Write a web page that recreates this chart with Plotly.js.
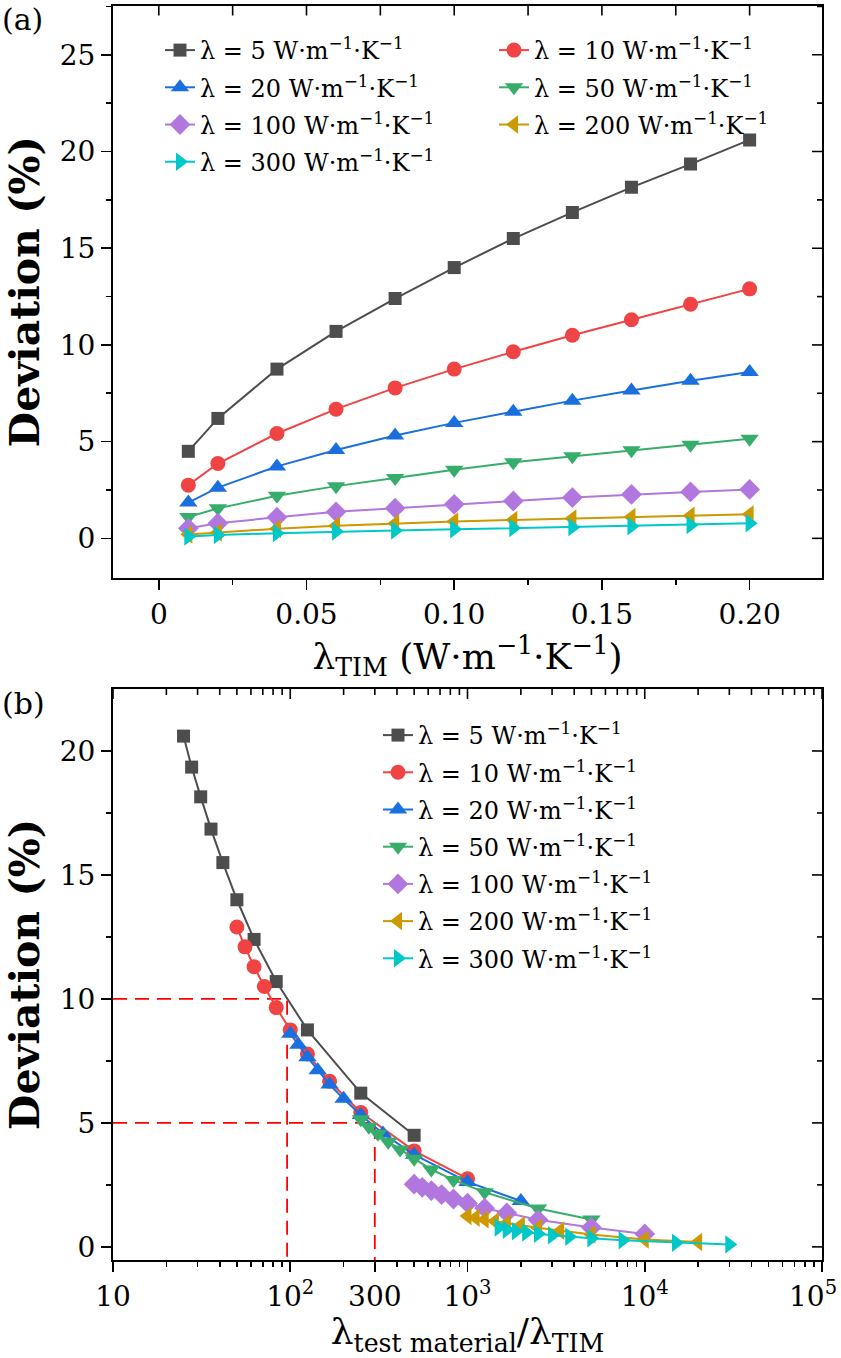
<!DOCTYPE html>
<html>
<head>
<meta charset="utf-8">
<script src="https://cdn.plot.ly/plotly-3.0.1.min.js"></script>
<style>html,body{margin:0;padding:0;background:#fff;}#chart{width:841px;height:1358px;}</style>
</head>
<body>
<div id="chart"></div>
<script>
// thermal conductivity of TIM (W·m^-1·K^-1)
const lamTIM = [0.01, 0.02, 0.04, 0.06, 0.08, 0.10, 0.12, 0.14, 0.16, 0.18, 0.20];
// thermal conductivity of test material
const lamMat = [5, 10, 20, 50, 100, 200, 300];
// deviation (%) for each test material
const dev5   = [4.5, 6.2, 8.75, 10.7, 12.4, 14.0, 15.5, 16.85, 18.15, 19.35, 20.6];
const dev10  = [2.75, 3.87, 5.42, 6.68, 7.78, 8.75, 9.65, 10.5, 11.3, 12.1, 12.9];
const dev20  = [1.85, 2.62, 3.72, 4.57, 5.32, 5.97, 6.55, 7.12, 7.65, 8.15, 8.6];
const dev50  = [1.1, 1.55, 2.2, 2.7, 3.12, 3.55, 3.93, 4.24, 4.56, 4.84, 5.15];
const dev100 = [0.52, 0.78, 1.09, 1.37, 1.56, 1.76, 1.93, 2.11, 2.27, 2.4, 2.53];
const dev200 = [0.2, 0.3, 0.5, 0.65, 0.77, 0.87, 0.95, 1.03, 1.1, 1.17, 1.24];
const dev300 = [0.1, 0.17, 0.27, 0.35, 0.41, 0.47, 0.53, 0.58, 0.63, 0.69, 0.78];
const devs = [dev5, dev10, dev20, dev50, dev100, dev200, dev300];
// legend column of each series in panel (a)
const legendColA = ['legend', 'legend3', 'legend', 'legend3', 'legend', 'legend3', 'legend'];
// reference guide lines in panel (b)
const guide10x = [10, 96, 96];
const guide10y = [10, 10, -0.53];
const guide5x = [10, 300, 300];
const guide5y = [5, 5, -0.53];
// tick positions / labels
const linTickVals = [0, 0.05, 0.10, 0.15, 0.20];
const linTickText = ['0', '0.05', '0.10', '0.15', '0.20'];
const linMinor = [0.025, 0.075, 0.125, 0.175, 0.225];
const yTickA = [0, 5, 10, 15, 20, 25];
const yMinorA = [2.5, 7.5, 12.5, 17.5, 22.5, 27.5];
const yTickB = [0, 5, 10, 15, 20];
const yMinorB = [2.5, 7.5, 12.5, 17.5];
const logTickVals = [10, 100, 300, 1000, 10000, 100000];
const logTickText = ['10', '10<sup>2</sup>', '300', '10<sup>3</sup>', '10<sup>4</sup>', '10<sup>5</sup>\u00a0\u00a0'];
const logDecades = [10, 100, 1000, 10000, 100000];

const colors = ['#4d4d4d', '#f04343', '#1a6fdf', '#37ad6b', '#b177de', '#cc9900', '#00c8c8'];
const symbols = ['square', 'circle', 'triangle-up', 'triangle-down', 'diamond', 'triangle-left', 'triangle-right'];
const msizes = [13, 15, 16, 16, 16, 16, 16];

const FONT = 'DejaVu Serif, Liberation Serif, serif';
const name = l => 'λ = ' + l + ' W·m<sup>−1</sup>·K<sup>−1</sup>';

const traces = [];
lamMat.forEach((l, i) => {
  traces.push({
    x: lamTIM, y: devs[i], xaxis: 'x', yaxis: 'y', legend: legendColA[i], legendgroup: 'a' + l,
    type: 'scatter', mode: 'lines+markers', name: name(l),
    line: {color: colors[i], width: 2},
    marker: {symbol: symbols[i], size: msizes[i], color: colors[i]}
  });
});
[[guide10x, guide10y], [guide5x, guide5y]].forEach(g => {
  traces.push({
    x: g[0], y: g[1], xaxis: 'x2', yaxis: 'y2', type: 'scatter', mode: 'lines',
    showlegend: false, line: {color: '#ff0000', width: 1.8, dash: '14px,8px'}
  });
});
lamMat.forEach((l, i) => {
  traces.push({
    x: lamTIM.map(t => l / t), y: devs[i], xaxis: 'x2', yaxis: 'y2', legend: 'legend2', legendgroup: 'b' + l,
    type: 'scatter', mode: 'lines+markers', name: name(l),
    line: {color: colors[i], width: 2},
    marker: {symbol: symbols[i], size: msizes[i], color: colors[i]}
  });
});

const minorLog = [];
for (let d = 1; d < 5; d++) for (let k = 2; k <= 9; k++) minorLog.push(k * Math.pow(10, d));

const W = 841, H = 1358;
const MAJ = 10, MIN = 5;
const dom = [113 / W, 822 / W];
const domA = [(H - 578) / H, (H - 5.5) / H];
const domB = [(H - 1260) / H, (H - 689) / H];
const rangeXA = [-0.0155, 0.2245], rangeYA = [-2.05, 27.55];
const rangeXB = [0.99999, 5.00001], rangeYB = [-0.53, 22.5];
const tickFont = {family: FONT, size: 28, color: '#000'};
const titleFont = {family: FONT, size: 36, color: '#000'};
const yTitleFont = {family: FONT, size: 41, color: '#000'};
const base = {showline: true, linewidth: 2, linecolor: '#000', showgrid: false, zeroline: false,
  ticks: 'outside', ticklen: MAJ, tickwidth: 1.6, tickcolor: '#000', tickfont: tickFont, mirror: true,
  ticklabeloverflow: 'allow'};
const minorOut = {ticks: 'outside', ticklen: MIN, tickwidth: 1.6, tickcolor: '#000'};
const legFont = {family: FONT, size: 24, color: '#000'};

// inward ticks on the top and right frame edges (mirrors of the axis ticks)
const shapes = [];
function topTicks(xr, yTop, vals, len) {
  vals.forEach(v => shapes.push({type: 'line', xref: xr, yref: 'paper', x0: v, x1: v, y0: yTop, y1: yTop - len / H,
    line: {color: '#000', width: 1.6}, layer: 'above'}));
}
function rightTicks(yr, vals, len) {
  vals.forEach(v => shapes.push({type: 'line', xref: 'paper', yref: yr, x0: dom[1], x1: dom[1] - len / W, y0: v, y1: v,
    line: {color: '#000', width: 1.6}, layer: 'above'}));
}
topTicks('x', domA[1], linTickVals, MAJ);
topTicks('x', domA[1], linMinor, MAJ);
rightTicks('y', yTickA, MAJ);
rightTicks('y', yMinorA, MIN);
topTicks('x2', domB[1], logDecades, MAJ);
topTicks('x2', domB[1], minorLog, MIN + 1);
rightTicks('y2', yTickB, MAJ);
rightTicks('y2', yMinorB, MIN);

const layout = {
  width: W, height: H, margin: {l: 0, r: 0, t: 0, b: 0},
  paper_bgcolor: '#fff', plot_bgcolor: '#fff', showlegend: true,
  font: {family: FONT, color: '#000'},
  shapes: shapes,
  xaxis: Object.assign({}, base, {domain: dom, anchor: 'y', range: rangeXA,
    tickmode: 'array', tickvals: linTickVals, ticktext: linTickText,
    minor: Object.assign({tickmode: 'array', tickvals: linMinor}, minorOut),
    title: {text: 'λ<sub>TIM</sub> (W·m<sup>−1</sup>·K<sup>−1</sup>)', font: titleFont, standoff: 12}}),
  yaxis: Object.assign({}, base, {domain: domA, anchor: 'x', range: rangeYA,
    tickmode: 'array', tickvals: yTickA,
    minor: Object.assign({tickmode: 'array', tickvals: yMinorA}, minorOut),
    title: {text: '<b>Deviation (%)</b>', font: yTitleFont, standoff: 7}}),
  xaxis2: Object.assign({}, base, {domain: dom, anchor: 'y2', type: 'log', range: rangeXB,
    tickmode: 'array', tickvals: logTickVals, ticktext: logTickText,
    minor: Object.assign({tickmode: 'array', tickvals: minorLog}, minorOut),
    title: {text: 'λ<sub>test material</sub>/λ<sub>TIM</sub>', font: titleFont, standoff: 8}}),
  yaxis2: Object.assign({}, base, {domain: domB, anchor: 'x2', range: rangeYB,
    tickmode: 'array', tickvals: yTickB,
    minor: Object.assign({tickmode: 'array', tickvals: yMinorB}, minorOut),
    title: {text: '<b>Deviation (%)</b>', font: yTitleFont, standoff: 7}}),
  legend: {orientation: 'v', x: 160 / W, xanchor: 'left', y: (H - 28) / H, yanchor: 'top',
    bgcolor: 'rgba(0,0,0,0)', font: legFont, traceorder: 'grouped', tracegroupgap: 3},
  legend3: {orientation: 'v', x: 494 / W, xanchor: 'left', y: (H - 28) / H, yanchor: 'top',
    bgcolor: 'rgba(0,0,0,0)', font: legFont, traceorder: 'grouped', tracegroupgap: 3},
  legend2: {orientation: 'v', x: 378 / W, xanchor: 'left', y: (H - 713) / H, yanchor: 'top',
    bgcolor: 'rgba(0,0,0,0)', font: legFont, traceorder: 'grouped', tracegroupgap: 3},
  annotations: [
    {text: '(a)', xref: 'paper', yref: 'paper', x: 0, y: 1, xanchor: 'left', yanchor: 'top', showarrow: false,
      font: {family: FONT, size: 30, color: '#000'}},
    {text: '(b)', xref: 'paper', yref: 'paper', x: 0, y: (H - 684) / H, xanchor: 'left', yanchor: 'top', showarrow: false,
      font: {family: FONT, size: 30, color: '#000'}}
  ]
};

Plotly.newPlot('chart', traces, layout, {staticPlot: true, displayModeBar: false});
</script>
</body>
</html>
